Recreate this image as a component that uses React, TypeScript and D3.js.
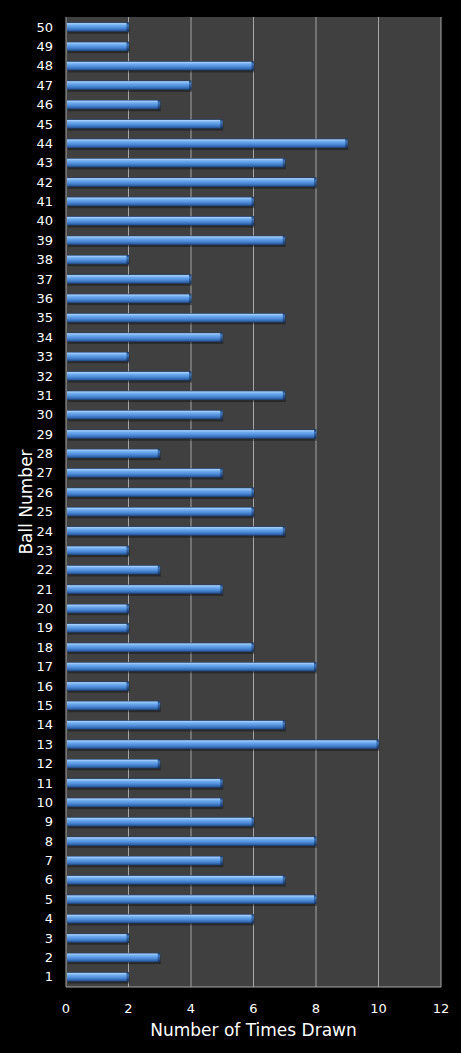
import React from "react";
import * as d3 from "d3";

const ballNumbers: number[] = d3.range(1, 51);
const timesDrawn: number[] = [
  2, 3, 2, 6, 8, 7, 5, 8, 6, 5,
  5, 3, 10, 7, 3, 2, 8, 6, 2, 2,
  5, 3, 2, 7, 6, 6, 5, 3, 8, 5,
  7, 4, 2, 5, 7, 4, 4, 2, 7, 6,
  6, 8, 7, 9, 5, 3, 4, 6, 2, 2,
];
const xTicks: number[] = [0, 2, 4, 6, 8, 10, 12];
const xTitle = "Number of Times Drawn";
const yTitle = "Ball Number";

const W = 461;
const H = 1053;
const M = { left: 66, right: 20, top: 17, bottom: 66 };
const FONT = "'DejaVu Sans', Verdana, sans-serif";

export default function App() {
  const x = d3.scaleLinear().domain([0, 12]).range([M.left, W - M.right]);
  const y = d3
    .scaleBand<number>()
    .domain([...ballNumbers].reverse())
    .range([M.top, H - M.bottom])
    .paddingInner(0.52)
    .paddingOuter(0.28);
  const bh = y.bandwidth();
  const plotBottom = H - M.bottom;

  return (
    <svg
      width={W}
      height={H}
      style={{ position: "absolute", left: 0, top: 0, display: "block", background: "#000" }}
    >
      <defs>
        <linearGradient id="barGrad" x1="0" y1="0" x2="0" y2="1">
          <stop offset="0" stopColor="#1f3f72" />
          <stop offset="0.12" stopColor="#a2cdf8" />
          <stop offset="0.3" stopColor="#70adef" />
          <stop offset="0.6" stopColor="#4d8bd9" />
          <stop offset="0.85" stopColor="#3064aa" />
          <stop offset="1" stopColor="#1c3a68" />
        </linearGradient>
        <linearGradient id="capGrad" x1="0" y1="0" x2="0" y2="1">
          <stop offset="0" stopColor="#1a355f" />
          <stop offset="0.3" stopColor="#3f78c0" />
          <stop offset="1" stopColor="#16305a" />
        </linearGradient>
      </defs>
      <rect x={0} y={0} width={W} height={H} fill="#000" />
      <rect
        x={x(0)}
        y={M.top}
        width={x(12) - x(0)}
        height={plotBottom - M.top}
        fill="#404040"
      />
      {xTicks.slice(1).map((t) => (
        <line
          key={"g" + t}
          x1={x(t)}
          x2={x(t)}
          y1={M.top}
          y2={plotBottom}
          stroke="#a6a6a6"
          strokeWidth={1}
        />
      ))}
      <line x1={x(0)} x2={x(0)} y1={M.top} y2={plotBottom} stroke="#a6a6a6" strokeWidth={1} />
      <line x1={x(0)} x2={x(12)} y1={plotBottom} y2={plotBottom} stroke="#a6a6a6" strokeWidth={1} />

      {ballNumbers.map((b, i) => {
        const v = timesDrawn[i];
        const yy = y(b)!;
        const x0 = x(0) + 1;
        const x1 = x(v);
        return (
          <g key={"b" + b}>
            <rect x={x0 + 1} y={yy + 2} width={x1 - x0} height={bh} fill="#000" opacity={0.35} />
            <rect x={x0} y={yy} width={x1 - x0} height={bh} fill="url(#barGrad)" />
            <rect x={x1 - 2} y={yy} width={2.5} height={bh} fill="url(#capGrad)" />
          </g>
        );
      })}

      {ballNumbers.map((b) => (
        <text
          key={"yl" + b}
          x={53}
          y={y(b)! + bh / 2}
          textAnchor="end"
          dominantBaseline="central"
          fill="#fff"
          fontFamily={FONT}
          fontSize={13}
        >
          {b}
        </text>
      ))}
      {xTicks.map((t) => (
        <text
          key={"xl" + t}
          x={x(t)}
          y={1008}
          textAnchor="middle"
          dominantBaseline="central"
          fill="#fff"
          fontFamily={FONT}
          fontSize={13}
        >
          {t}
        </text>
      ))}
      <text
        x={(x(0) + x(12)) / 2 + 0}
        y={1030}
        textAnchor="middle"
        dominantBaseline="central"
        fill="#fff"
        fontFamily={FONT}
        fontSize={17}
      >
        {xTitle}
      </text>
      <text
        transform={`translate(26, ${(M.top + plotBottom) / 2}) rotate(-90)`}
        textAnchor="middle"
        dominantBaseline="central"
        fill="#fff"
        fontFamily={FONT}
        fontSize={17}
      >
        {yTitle}
      </text>
    </svg>
  );
}
